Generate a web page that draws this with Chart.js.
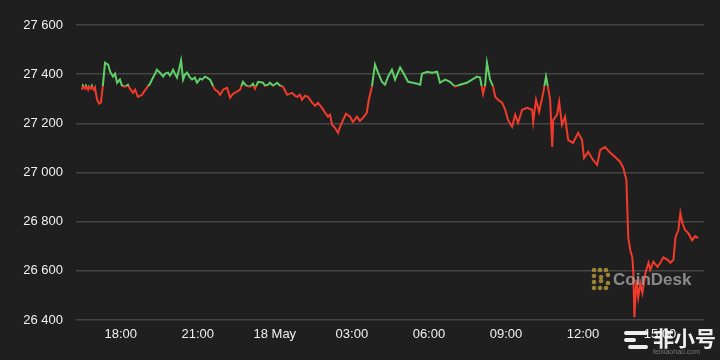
<!DOCTYPE html>
<html>
<head>
<meta charset="utf-8">
<script src="https://cdn.jsdelivr.net/npm/chart.js@4"></script>
<style>
  html, body { margin: 0; padding: 0; background: #1f1f1f; }
  canvas { display: block; }
</style>
</head>
<body>
<canvas id="chart" width="720" height="360"></canvas>
<script>
// BTC price, 24h, hours counted from 17 May 00:00
const hours = [
  16.49, 16.53, 16.61, 16.65, 16.73, 16.77, 16.84, 16.88, 16.96, 17.00,
  17.08, 17.16, 17.23, 17.31, 17.39,
  17.51, 17.59, 17.70, 17.78, 17.86, 17.97, 18.05, 18.17, 18.28, 18.36,
  18.48, 18.56, 18.67, 18.83, 18.91, 19.02, 19.14, 19.22, 19.34, 19.41,
  19.53, 19.65, 19.73, 19.84, 19.92, 20.04, 20.11, 20.19, 20.27, 20.35,
  20.43, 20.50, 20.58, 20.70, 20.78, 20.89, 20.97, 21.09, 21.17, 21.28,
  21.36, 21.48, 21.59, 21.67, 21.79, 21.87, 21.99, 22.14, 22.26, 22.37,
  22.45, 22.65, 22.76, 22.88, 23.04, 23.15, 23.23, 23.35, 23.54, 23.62,
  23.74, 23.81, 23.93, 24.09, 24.20, 24.32, 24.48, 24.67, 24.79, 24.87,
  24.98, 25.06, 25.18, 25.29, 25.45, 25.57, 25.68, 25.84, 25.96, 26.07,
  26.15, 26.23, 26.34, 26.46, 26.54, 26.66, 26.77, 26.93, 27.04, 27.20,
  27.31, 27.43, 27.58, 27.66, 27.78, 27.90, 28.02, 28.17, 28.29, 28.41,
  28.56, 28.68, 28.88, 29.00, 29.19, 29.38, 29.54, 29.66, 29.73, 29.93,
  30.12, 30.32, 30.43, 30.63, 30.82, 31.02, 31.21, 31.48, 31.68, 31.87,
  31.99, 32.11, 32.19, 32.26, 32.38, 32.50, 32.58, 32.69, 32.85, 32.97,
  33.08, 33.24, 33.36, 33.47, 33.63, 33.82, 34.02, 34.06, 34.17, 34.29,
  34.45, 34.56, 34.64, 34.72, 34.80, 34.84, 34.99, 35.07, 35.18, 35.30,
  35.42, 35.61, 35.81, 35.96, 36.04, 36.20, 36.39, 36.55, 36.67, 36.86,
  37.06, 37.25, 37.45, 37.57, 37.69, 37.73, 37.76, 37.84, 37.92, 37.96,
  38.00, 38.08, 38.15, 38.23, 38.31, 38.43, 38.55, 38.62, 38.74, 38.90,
  39.01, 39.13, 39.29, 39.40, 39.52, 39.60, 39.71, 39.79, 39.87, 39.98,
  40.10, 40.25, 40.37, 40.48
];
const prices = [
  27337, 27353, 27341, 27353, 27337, 27349, 27341, 27353, 27337, 27345,
  27296, 27280, 27284, 27357, 27447,
  27439, 27410, 27390, 27402, 27365, 27378, 27353, 27349, 27357, 27341,
  27324, 27337, 27308, 27316, 27329, 27345, 27361, 27378, 27402, 27418,
  27406, 27390, 27402, 27406, 27394, 27418, 27402, 27386, 27418, 27455,
  27378, 27398, 27406, 27386, 27378, 27386, 27365, 27382, 27378, 27390,
  27386, 27378, 27353, 27337, 27329, 27316, 27337, 27345, 27304, 27320,
  27324, 27337, 27369, 27353, 27349, 27361, 27341, 27369, 27365, 27353,
  27357, 27365, 27353, 27365, 27353, 27349, 27316, 27324, 27312, 27308,
  27316, 27296, 27312, 27308, 27284, 27271, 27284, 27263, 27243, 27227,
  27235, 27194, 27182, 27161, 27186, 27214, 27239, 27227, 27206, 27227,
  27210, 27222, 27243, 27296, 27349, 27439, 27406, 27369, 27357, 27390,
  27418, 27378, 27427, 27406, 27369, 27365, 27361, 27357, 27402, 27410,
  27406, 27410, 27365, 27378, 27369, 27349, 27357, 27365, 27378, 27390,
  27386, 27320, 27357, 27447, 27378, 27349, 27308, 27296, 27284, 27255,
  27214, 27186, 27235, 27202, 27255, 27263, 27255, 27206, 27296, 27247,
  27324, 27390, 27345, 27296, 27104, 27214, 27235, 27288, 27194, 27227,
  27133, 27120, 27161, 27133, 27059, 27084, 27051, 27031, 27092, 27104,
  27080, 27063, 27043, 27018, 26969, 26835, 26737, 26684, 26655, 26592,
  26411, 26563, 26492, 26549, 26509, 26592, 26633, 26604, 26637, 26616,
  26633, 26655, 26645, 26633, 26645, 26737, 26765, 26835, 26794, 26765,
  26753, 26724, 26741, 26733
];
const openPrice = 27350;

const xTickHours = [18, 21, 24, 27, 30, 33, 36, 39];
const xTickLabels = ['18:00', '21:00', '18 May', '03:00', '06:00', '09:00', '12:00', '15:00'];

const green = '#5fd068';
const red = '#f23a2a';
const font = "'Liberation Sans', Arial, sans-serif";

function splitColor(context) {
  const chart = context.chart;
  const area = chart.chartArea;
  if (!area) return green;
  const yp = chart.scales.y.getPixelForValue(openPrice);
  let f = (yp - area.top) / (area.bottom - area.top);
  f = Math.min(1, Math.max(0, f));
  const g = chart.ctx.createLinearGradient(0, area.top, 0, area.bottom);
  g.addColorStop(0, green);
  g.addColorStop(f, green);
  g.addColorStop(f, red);
  g.addColorStop(1, red);
  return g;
}

// watermarks drawn on top of the chart
const watermark = {
  id: 'watermark',
  afterDraw(chart) {
    const c = chart.ctx;
    c.save();
    // CoinDesk mark
    c.fillStyle = 'rgba(176, 148, 58, 0.85)';
    const dots = [[594,270],[600,270],[606,270],[594,276],[594,282],[594,288],
                  [600,288],[606,288],[601,277],[601,281],[608,275],[608,283]];
    dots.forEach(d => { c.beginPath(); c.arc(d[0], d[1], 2.3, 0, Math.PI * 2); c.fill(); });
    c.fillStyle = 'rgba(175, 175, 175, 0.75)';
    c.font = 'bold 17px ' + font;
    c.textBaseline = 'middle';
    c.textAlign = 'left';
    c.fillText('CoinDesk', 613, 280);
    // feixiaohao mark
    c.fillStyle = 'rgba(255, 255, 255, 0.92)';
    [[624,331,24],[624,338,12],[628,345,20]].forEach(b => {
      c.beginPath();
      c.roundRect(b[0], b[1], b[2], 4, 2);
      c.fill();
    });
    c.font = 'bold 21px "Noto Sans CJK SC", sans-serif';
    c.fillText('非小号', 653, 338);
    c.fillStyle = 'rgba(200, 200, 200, 0.5)';
    c.font = '7px ' + font;
    c.fillText('feixiaohao.com', 653, 352);
    c.restore();
  }
};

new Chart(document.getElementById('chart'), {
  type: 'line',
  data: {
    datasets: [{
      data: hours.map((h, i) => ({ x: h, y: prices[i] })),
      borderColor: splitColor,
      borderWidth: 2,
      pointRadius: 0,
      tension: 0,
      fill: false
    }]
  },
  options: {
    responsive: false,
    animation: false,
    devicePixelRatio: 1,
    layout: { padding: { top: 25, right: 16, left: 0, bottom: 0 } },
    plugins: { legend: { display: false }, tooltip: { enabled: false } },
    scales: {
      x: {
        type: 'linear',
        min: 16.26,
        max: 40.71,
        grid: { display: false, drawTicks: false },
        border: { display: false },
        afterBuildTicks: (scale) => { scale.ticks = xTickHours.map(v => ({ value: v })); },
        afterFit: (scale) => { scale.height = 40; },
        ticks: {
          color: '#f0f0f0',
          font: { family: font, size: 13 },
          padding: 7,
          maxRotation: 0,
          autoSkip: false,
          callback: (v) => xTickLabels[xTickHours.indexOf(v)]
        }
      },
      y: {
        min: 26400,
        max: 27600,
        grid: { color: '#454545', lineWidth: 1.5, drawTicks: false },
        border: { display: false },
        afterFit: (scale) => { scale.width = 76; },
        ticks: {
          stepSize: 200,
          color: '#f0f0f0',
          font: { family: font, size: 13 },
          padding: 13,
          callback: (v) => String(v).replace(/\B(?=(\d{3})+(?!\d))/g, ' ')
        }
      }
    }
  },
  plugins: [watermark]
});
</script>
</body>
</html>
